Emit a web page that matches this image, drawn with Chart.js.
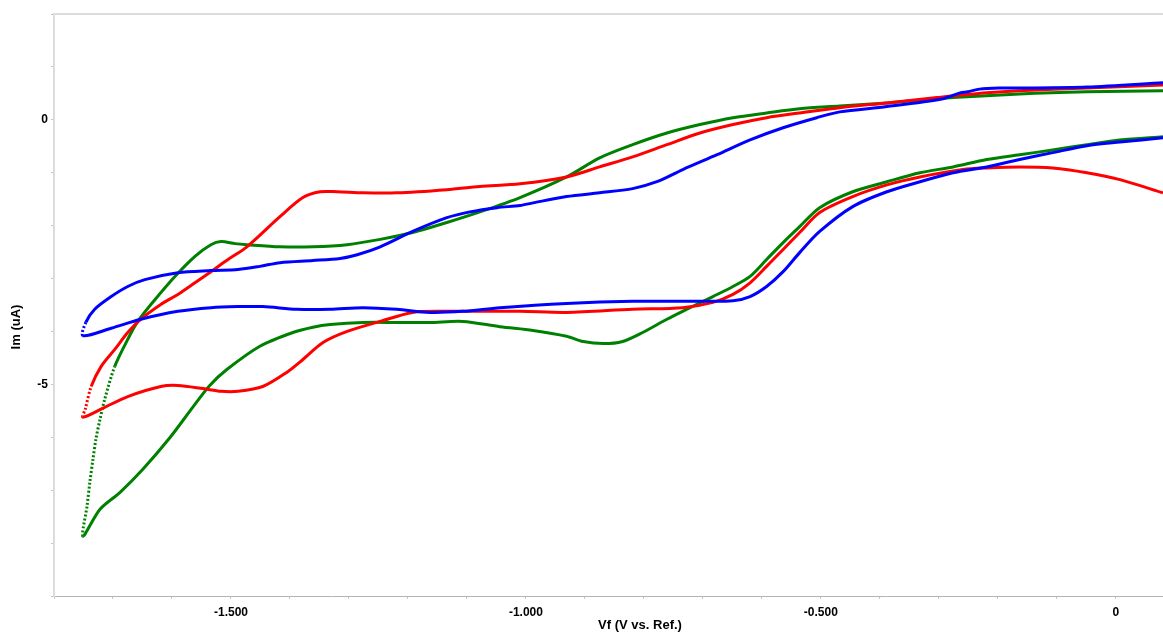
<!DOCTYPE html>
<html>
<head>
<meta charset="utf-8">
<script src="https://cdn.jsdelivr.net/npm/chart.js@4.4.1/dist/chart.umd.min.js"></script>
<style>
    html, body { margin: 0; padding: 0; background: #ffffff; }
    #wrap { width: 1163px; height: 634px; position: relative; }
</style>
</head>
<body>
<div id="wrap"><canvas id="cv"></canvas></div>
<script>
// Dane (Vf w V, Im w uA)

// czerwona - przebieg w strone ujemna
const redFwdV = [0.080, 0.007, -0.049, -0.107, -0.163, -0.219, -0.259, -0.332, -0.388, -0.446, -0.502, -0.536, -0.564, -0.592, -0.620, -0.649, -0.683, -0.734, -0.819, -0.931, -1.010, -1.134, -1.192, -1.247, -1.303, -1.344, -1.378, -1.405, -1.446, -1.488, -1.517, -1.547, -1.590, -1.619, -1.675, -1.717, -1.751];
const redFwdI = [-1.38, -1.13, -1.00, -0.91, -0.89, -0.91, -0.94, -1.08, -1.23, -1.45, -1.75, -2.13, -2.45, -2.77, -3.08, -3.30, -3.45, -3.55, -3.58, -3.64, -3.62, -3.62, -3.64, -3.81, -4.00, -4.21, -4.53, -4.77, -5.04, -5.13, -5.13, -5.08, -5.02, -5.04, -5.23, -5.45, -5.62];
// czerwona - powrot
const redRevV = [-1.747, -1.737, -1.720, -1.697, -1.675, -1.653, -1.619, -1.590, -1.561, -1.534, -1.505, -1.473, -1.417, -1.378, -1.349, -1.320, -1.276, -1.219, -1.134, -1.078, -1.010, -0.931, -0.875, -0.819, -0.761, -0.705, -0.649, -0.592, -0.536, -0.468, -0.388, -0.303, -0.219, -0.163, -0.049, 0.080];
const redRevI = [-5.47, -5.04, -4.66, -4.34, -4.02, -3.77, -3.49, -3.30, -3.08, -2.87, -2.64, -2.40, -1.83, -1.47, -1.36, -1.36, -1.38, -1.38, -1.32, -1.26, -1.21, -1.08, -0.89, -0.70, -0.47, -0.25, -0.09, 0.04, 0.13, 0.23, 0.32, 0.42, 0.51, 0.55, 0.60, 0.66];

// niebieska
const blueFwdV = [0.080, 0.007, -0.049, -0.107, -0.163, -0.219, -0.276, -0.332, -0.388, -0.446, -0.502, -0.536, -0.564, -0.592, -0.620, -0.649, -0.705, -0.819, -0.931, -1.044, -1.107, -1.163, -1.219, -1.276, -1.332, -1.388, -1.446, -1.488, -1.534, -1.590, -1.653, -1.703, -1.751];
const blueFwdI = [-0.34, -0.42, -0.49, -0.62, -0.75, -0.89, -1.00, -1.17, -1.36, -1.64, -2.11, -2.51, -2.87, -3.15, -3.34, -3.42, -3.43, -3.43, -3.47, -3.55, -3.62, -3.64, -3.58, -3.55, -3.58, -3.58, -3.53, -3.53, -3.55, -3.62, -3.77, -3.94, -4.08];
const blueRevV = [-1.746, -1.731, -1.703, -1.675, -1.646, -1.590, -1.534, -1.488, -1.451, -1.417, -1.361, -1.315, -1.286, -1.247, -1.192, -1.134, -1.095, -1.049, -1.010, -0.988, -0.931, -0.875, -0.819, -0.778, -0.734, -0.676, -0.620, -0.564, -0.507, -0.468, -0.388, -0.293, -0.264, -0.251, -0.231, -0.197, -0.163, -0.049, 0.080];
const blueRevI = [-3.83, -3.58, -3.34, -3.15, -3.02, -2.89, -2.85, -2.83, -2.77, -2.70, -2.66, -2.62, -2.55, -2.40, -2.11, -1.85, -1.74, -1.66, -1.62, -1.57, -1.45, -1.38, -1.30, -1.17, -0.94, -0.66, -0.38, -0.15, 0.04, 0.15, 0.25, 0.40, 0.51, 0.53, 0.58, 0.60, 0.60, 0.62, 0.70];

// zielona
const greenFwdV = [0.080, 0.007, -0.049, -0.107, -0.163, -0.219, -0.276, -0.332, -0.388, -0.446, -0.502, -0.536, -0.564, -0.592, -0.620, -0.649, -0.683, -0.727, -0.761, -0.802, -0.836, -0.869, -0.903, -0.931, -0.988, -1.044, -1.107, -1.163, -1.219, -1.276, -1.332, -1.361, -1.395, -1.451, -1.507, -1.536, -1.564, -1.603, -1.649, -1.688, -1.722, -1.751];
const greenFwdI = [-0.32, -0.38, -0.47, -0.57, -0.66, -0.75, -0.89, -1.00, -1.17, -1.36, -1.66, -2.02, -2.32, -2.64, -2.96, -3.15, -3.34, -3.58, -3.77, -4.02, -4.19, -4.23, -4.19, -4.09, -3.98, -3.91, -3.81, -3.83, -3.83, -3.83, -3.87, -3.92, -4.02, -4.28, -4.72, -5.02, -5.42, -6.00, -6.60, -7.04, -7.36, -7.87];
const greenRevV = [-1.744, -1.739, -1.734, -1.729, -1.722, -1.714, -1.697, -1.675, -1.658, -1.629, -1.595, -1.561, -1.534, -1.517, -1.493, -1.473, -1.417, -1.361, -1.303, -1.247, -1.192, -1.134, -1.078, -1.010, -0.931, -0.875, -0.819, -0.761, -0.705, -0.649, -0.592, -0.536, -0.468, -0.388, -0.276, -0.163, -0.049, 0.080];
const greenRevI = [-7.30, -6.83, -6.42, -6.04, -5.66, -5.28, -4.66, -4.15, -3.81, -3.40, -2.96, -2.58, -2.36, -2.30, -2.34, -2.36, -2.40, -2.40, -2.36, -2.26, -2.13, -1.94, -1.74, -1.47, -1.08, -0.72, -0.47, -0.25, -0.09, 0.04, 0.13, 0.21, 0.26, 0.32, 0.42, 0.49, 0.53, 0.55];

// Osie
const xMin = -1.8, xMax = 0.08, xStep = 0.1;
const yMin = -9, yMax = 2, yStep = 1;
const xLabelEvery = 0.5;
const yLabelEvery = 5;

// Skladanie petli z dwoch galezi
function buildLoop(fv, fi, rv, ri) {
    const pts = [];
    fv.forEach((v, i) => pts.push({ x: v, y: fi[i] }));
    rv.forEach((v, i) => pts.push({ x: v, y: ri[i] }));
    return pts;
}

// Stromy fragment rysowany kropkami jak w oryginale
function steepDash(ctx) {
    const dx = Math.abs(ctx.p1.x - ctx.p0.x);
    const dy = Math.abs(ctx.p1.y - ctx.p0.y);
    return dy > 2.5 * dx ? [2, 2] : undefined;
}

function makeSet(label, color, pts) {
    return {
        label: label,
        data: pts,
        showLine: true,
        borderColor: color,
        backgroundColor: color,
        borderWidth: 3,
        pointRadius: 0,
        tension: 0.3,
        borderJoinStyle: 'round',
        segment: { borderDash: steepDash }
    };
}

const tickFont = { family: 'Liberation Sans, Arial, sans-serif', size: 12, weight: 'bold' };

function isMultiple(v, step) {
    const r = v / step;
    return Math.abs(r - Math.round(r)) < 1e-6;
}

// Tytuly osi i gorna ramka
const frame = {
    id: 'frame',
    afterDraw(chart) {
        const c = chart.ctx;
        const a = chart.chartArea;
        c.save();
        c.strokeStyle = '#dcdcdc';
        c.lineWidth = 2;
        c.beginPath();
        c.moveTo(a.left - 1, a.top);
        c.lineTo(a.right, a.top);
        c.stroke();

        c.fillStyle = '#000';
        c.font = 'bold 13px "Liberation Sans", Arial, sans-serif';
        c.textAlign = 'center';
        c.textBaseline = 'middle';
        c.fillText('Vf (V vs. Ref.)', 640, 625);
        c.translate(16, 327);
        c.rotate(-Math.PI / 2);
        c.fillText('Im (uA)', 0, 0);
        c.restore();
    }
};

new Chart(document.getElementById('cv'), {
    type: 'scatter',
    data: {
        datasets: [
            makeSet('3', '#0000ff', buildLoop(blueFwdV, blueFwdI, blueRevV, blueRevI)),
            makeSet('1', '#ff0000', buildLoop(redFwdV, redFwdI, redRevV, redRevI)),
            makeSet('2', '#008000', buildLoop(greenFwdV, greenFwdI, greenRevV, greenRevI))
        ]
    },
    options: {
        responsive: true,
        maintainAspectRatio: false,
        animation: false,
        layout: { padding: { top: 14, right: 0, left: 0, bottom: 0 } },
        plugins: {
            legend: { display: false },
            tooltip: { enabled: false }
        },
        scales: {
            x: {
                type: 'linear',
                min: xMin,
                max: xMax,
                afterFit: (s) => { s.height = 38; s.paddingRight = 0; s.paddingLeft = 0; },
                border: { color: '#b4b4b4', width: 1 },
                grid: { drawOnChartArea: false, drawTicks: true, tickLength: 3, color: '#c4c4c4' },
                ticks: {
                    stepSize: xStep,
                    autoSkip: false,
                    maxRotation: 0,
                    padding: 6,
                    color: '#000',
                    font: tickFont,
                    callback: (v) => {
                        if (!isMultiple(v, xLabelEvery)) return '';
                        if (Math.abs(v) < 1e-9) return '0';
                        return v.toFixed(3);
                    }
                }
            },
            y: {
                type: 'linear',
                min: yMin,
                max: yMax,
                afterFit: (s) => { s.width = 54; s.paddingTop = 0; s.paddingBottom = 0; },
                border: { color: '#dcdcdc', width: 2 },
                grid: { drawOnChartArea: false, drawTicks: true, tickLength: 3, color: '#c4c4c4' },
                ticks: {
                    stepSize: yStep,
                    autoSkip: false,
                    padding: 3,
                    color: '#000',
                    font: tickFont,
                    callback: (v) => {
                        if (!isMultiple(v, yLabelEvery)) return '';
                        return Math.abs(v) < 1e-9 ? '0' : String(Math.round(v));
                    }
                }
            }
        }
    },
    plugins: [frame]
});
</script>
</body>
</html>
